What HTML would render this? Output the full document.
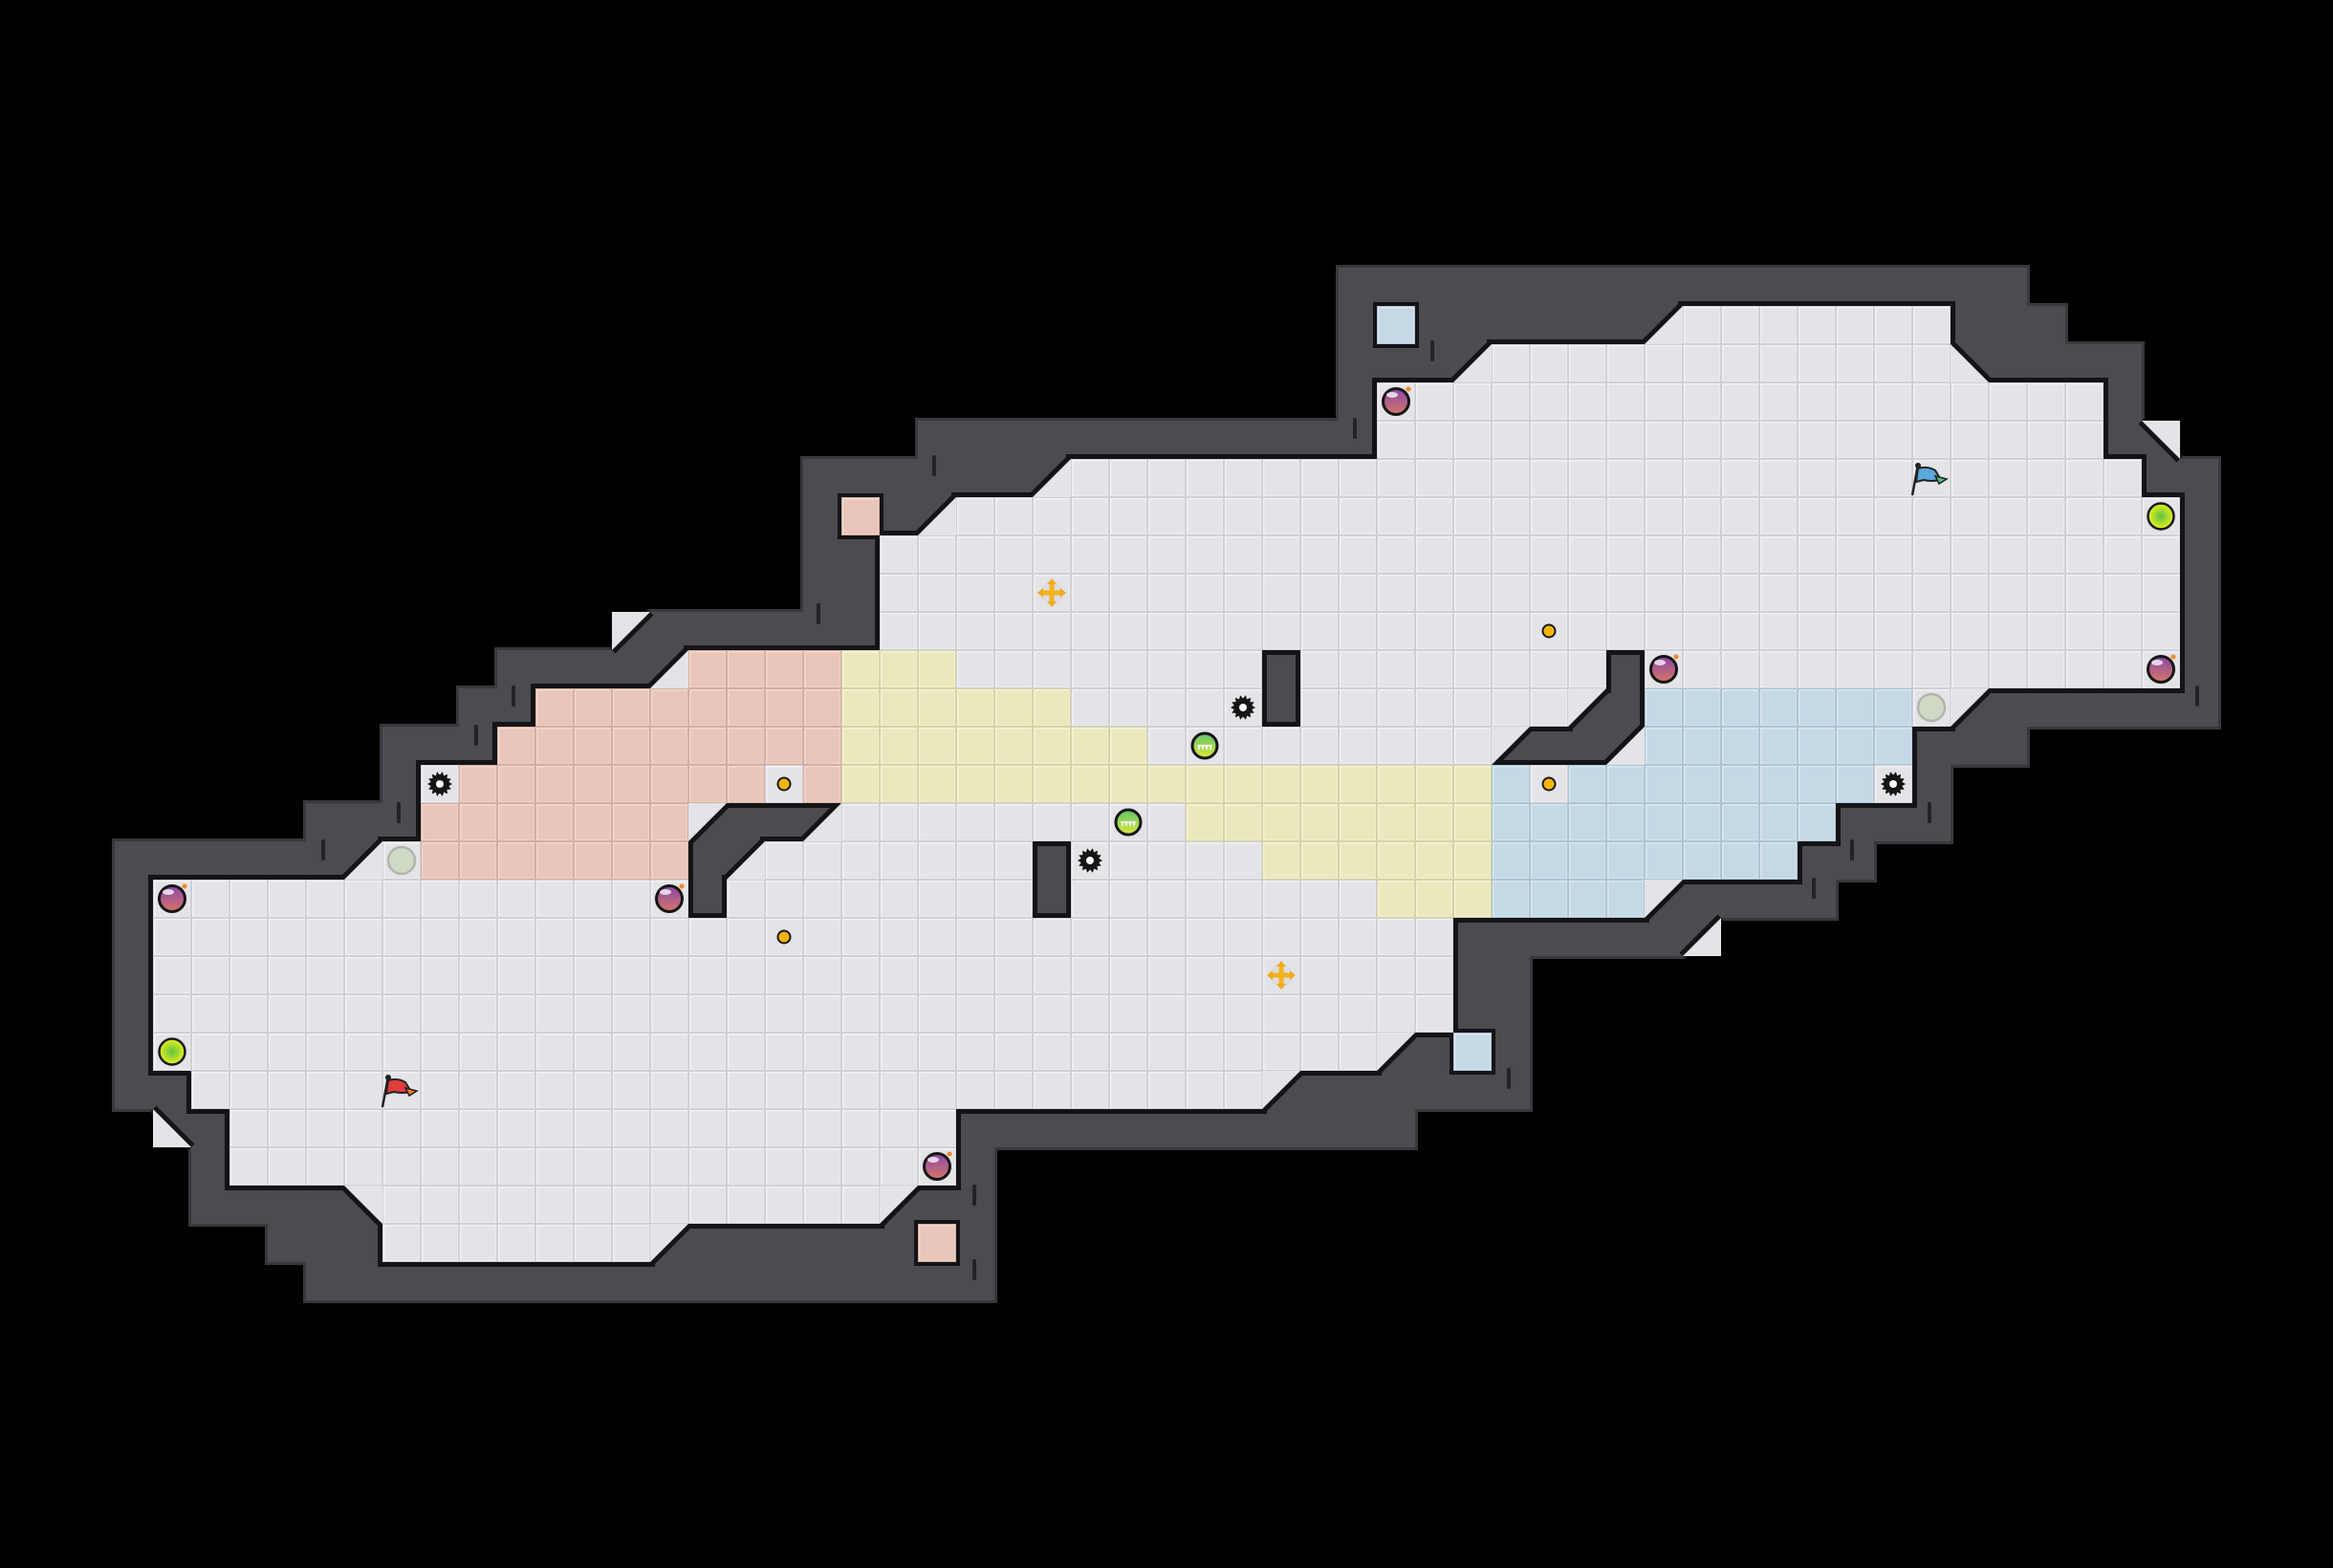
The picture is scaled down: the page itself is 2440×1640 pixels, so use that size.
<!DOCTYPE html>
<html><head><meta charset="utf-8">
<style>
html,body{margin:0;padding:0;background:#000;width:2440px;height:1640px;overflow:hidden;}
svg{display:block;}
</style></head>
<body>
<svg id="s" width="2440" height="1640" viewBox="0 0 2440 1640" xmlns="http://www.w3.org/2000/svg">
<defs>
<linearGradient id="bomb" x1="0" y1="0" x2="0" y2="1"><stop offset="0" stop-color="#8a47ab"/><stop offset="1" stop-color="#d67664"/></linearGradient>
<radialGradient id="lime" cx="0.5" cy="0.5" r="0.5"><stop offset="0" stop-color="#5fc244"/><stop offset="1" stop-color="#e9f01c"/></radialGradient>
<linearGradient id="grn" x1="0" y1="0" x2="0" y2="1"><stop offset="0" stop-color="#62c46c"/><stop offset="1" stop-color="#dbe83a"/></linearGradient>
</defs>
<rect width="2440" height="1640" fill="#000"/>
<g id="L"></g>
</svg>
<script>
var floor=[],walls=[],diags=[],squares=[];
function F(r,a,b,col){col=col||'g';for(var c=a;c<=b;c++)floor.push([c,r,col]);}
function W(r,a,b){if(b===undefined)b=a;for(var c=a;c<=b;c++)walls.push([c,r]);}
function D(c,r,t,col,art){diags.push([c,r,t,col||'g',art||0]);}
function S(c,r,col){squares.push([c,r,col]);}
F(8,44,50);D(43,8,1);
F(9,39,50);D(38,9,1);D(51,9,2);
F(10,36,54);F(11,36,54);D(56,11,4,'g',1);
F(12,28,55);D(27,12,1);
F(13,25,56);D(24,13,1);
F(14,23,56);F(15,23,56);F(16,23,56);D(16,16,3,'g',1);
F(17,18,21,'p');F(17,22,24,'y');F(17,25,56);D(17,17,1);
F(18,14,21,'p');F(18,22,27,'y');F(18,28,40);D(41,18,3);F(18,43,49,'b');F(18,50,50);D(51,18,3);
F(19,13,21,'p');F(19,22,29,'y');F(19,30,38);D(39,19,3);D(42,19,1);F(19,43,49,'b');
F(20,11,11);F(20,12,19,'p');F(20,20,20);F(20,21,21,'p');F(20,22,38,'y');F(20,39,39,'b');F(20,40,40);F(20,41,48,'b');F(20,49,49);
F(21,11,17,'p');D(18,21,3);D(21,21,1);F(21,22,30);F(21,31,38,'y');F(21,39,47,'b');
D(9,22,1);F(22,10,10);F(22,11,17,'p');D(19,22,1);F(22,20,32);F(22,33,38,'y');F(22,39,46,'b');
F(23,4,17);F(23,19,35);F(23,36,38,'y');F(23,39,42,'b');D(43,23,3);
F(24,4,37);D(44,24,1,'g',1);
F(25,4,37);F(26,4,37);
F(27,4,35);D(36,27,3);
F(28,5,32);D(33,28,3);
F(29,6,24);D(4,29,2,'g',1);
F(30,6,24);
D(9,31,4);F(31,10,22);D(23,31,3);
F(32,10,16);D(17,32,3);
W(7,35,52);
W(8,35);W(8,37,42);W(8,51,53);
W(9,35,37);W(9,52,55);
W(10,35);W(10,55);
W(11,24,35);W(11,55);
W(12,21,26);W(12,56,57);
W(13,21);W(13,23);W(13,57);
W(14,21,22);W(14,57);W(15,21,22);W(15,57);
W(16,17,22);W(16,57);
W(17,13,16);W(17,33);W(17,42);W(17,57);
W(18,12,13);W(18,33);W(18,42);W(18,52,57);
W(19,10,12);W(19,40,41);W(19,50,52);
W(20,10);W(20,50);
W(21,8,10);W(21,19,20);W(21,48,50);
W(22,3,8);W(22,18);W(22,27);W(22,47,48);
W(23,3);W(23,18);W(23,27);W(23,44,47);
W(24,3);W(24,38,43);
W(25,3);W(25,38,39);W(26,3);W(26,38,39);
W(27,3);W(27,37);W(27,39);
W(28,3,4);W(28,34,39);
W(29,5);W(29,25,36);
W(30,5);W(30,25);
W(31,5,8);W(31,24,25);
W(32,7,9);W(32,18,23);W(32,25);
W(33,8,25);
S(36,8,'b');S(22,13,'p');S(38,27,'b');S(24,32,'p');

var ws={};walls.forEach(function(w){ws[w[0]+','+w[1]]=1;});
floor=floor.filter(function(f){return !ws[f[0]+','+f[1]];});
var base={g:'#e3e3e8',p:'#e8c6b9',y:'#ebe8bd',b:'#c5d8e6'};
var dark={g:'#cfcfd5',p:'#d4aea1',y:'#d6d3a4',b:'#adc3d3'};
var lite={g:'#f2f2f4',p:'#f2d8ce',y:'#f5f3d6',b:'#dbe7f0'};
function triP(x,y,t){
 if(t==1)return [[x+40,y],[x+40,y+40],[x,y+40]];
 if(t==2)return [[x,y],[x+40,y+40],[x,y+40]];
 if(t==3)return [[x,y],[x+40,y],[x,y+40]];
 return [[x,y],[x+40,y],[x+40,y+40]];}
function hyp(x,y,t){ if(t==1||t==3)return [[x+40,y],[x,y+40]]; return [[x,y],[x+40,y+40]];}
function tri(x,y,t){return triP(x,y,t).map(function(q){return q[0]+','+q[1];}).join(' ');}
var o=[];
walls.concat(diags.filter(function(d){return !d[4];})).forEach(function(w){o.push('<rect x="'+(w[0]*40-3)+'" y="'+(w[1]*40-3)+'" width="46" height="46" fill="#38383d"/>');});
walls.concat(diags).forEach(function(w){o.push('<rect x="'+(w[0]*40)+'" y="'+(w[1]*40)+'" width="40" height="40" fill="#4b4b51"/>');});
floor.forEach(function(f){o.push('<rect x="'+(f[0]*40-5)+'" y="'+(f[1]*40-5)+'" width="50" height="50" fill="#141416"/>');});
squares.forEach(function(f){o.push('<rect x="'+(f[0]*40-4)+'" y="'+(f[1]*40-4)+'" width="48" height="48" fill="#141416"/>');});
diags.forEach(function(d){
 if(d[4]){var h=hyp(d[0]*40,d[1]*40,d[2]);o.push('<line x1="'+h[0][0]+'" y1="'+h[0][1]+'" x2="'+h[1][0]+'" y2="'+h[1][1]+'" stroke="#141416" stroke-width="10"/>');}
 else o.push('<polygon points="'+tri(d[0]*40,d[1]*40,d[2])+'" fill="#141416" stroke="#141416" stroke-width="10" stroke-linejoin="round"/>');});
floor.concat(squares).forEach(function(f){var x=f[0]*40,y=f[1]*40,c=f[2];
 o.push('<rect x="'+x+'" y="'+y+'" width="40" height="40" fill="'+dark[c]+'"/><rect x="'+(x+1)+'" y="'+(y+1)+'" width="38" height="38" fill="'+lite[c]+'"/><rect x="'+(x+2.5)+'" y="'+(y+2.5)+'" width="36" height="36" fill="'+base[c]+'"/>');});
diags.forEach(function(d){o.push('<polygon points="'+tri(d[0]*40,d[1]*40,d[2])+'" fill="'+base[d[3]]+'"/>');});
[[338,889],[417,850],[498,769],[537,728],[856,642],[977,487],[1417,448],[1498,367],[2298,728],[2018,850],[1937,889],[1897,929],[1578,1128],[1019,1250],[1019,1328]].forEach(function(t){o.push('<rect x="'+(t[0]-2)+'" y="'+(t[1]-11)+'" width="4" height="22" rx="1.5" fill="#232327"/>');});
function cc(c,r){return [c*40+20,r*40+20];}
function bomb(c,r){var p=cc(c,r);o.push('<g transform="translate('+p[0]+','+p[1]+')"><circle r="13.5" fill="url(#bomb)" stroke="#151515" stroke-width="3"/><ellipse cx="-4" cy="-7" rx="6" ry="3" fill="#fff" opacity=".75"/><circle cx="13" cy="-13" r="2.5" fill="#f08a24"/></g>');}
function lime(c,r){var p=cc(c,r);o.push('<circle cx="'+p[0]+'" cy="'+p[1]+'" r="13.5" fill="url(#lime)" stroke="#1a1a1a" stroke-width="2.5"/>');}
function grey(c,r){var p=cc(c,r);o.push('<circle cx="'+p[0]+'" cy="'+p[1]+'" r="14" fill="#cfdac6" stroke="#b0b6ab" stroke-width="2.5"/>');}
function stripe(c,r){var p=cc(c,r);o.push('<g transform="translate('+p[0]+','+p[1]+')"><circle r="13" fill="url(#grn)" stroke="#151515" stroke-width="3"/><path d="M-8,-1 L8,-1 L6,5 L4,-1 L2,5 L0,-1 L-2,5 L-4,-1 L-6,5 Z" fill="#fff"/></g>');}
function gear(c,r){var p=cc(c,r),d='';for(var i=0;i<28;i++){var a=i*Math.PI/14,R=(i%2?9.5:13);d+=(i?'L':'M')+(p[0]+R*Math.cos(a)).toFixed(1)+','+(p[1]+R*Math.sin(a)).toFixed(1);}
 o.push('<path d="'+d+'Z" fill="#151515"/><circle cx="'+p[0]+'" cy="'+p[1]+'" r="4" fill="#fff"/>');}
function dot(c,r){var p=cc(c,r);o.push('<circle cx="'+p[0]+'" cy="'+p[1]+'" r="6.5" fill="#f5b400" stroke="#1a1a1a" stroke-width="2"/>');}
function cross(c,r){var p=cc(c,r);o.push('<g transform="translate('+p[0]+','+p[1]+')"><circle r="12" fill="#d8d8de" opacity=".7"/><rect x="-2.5" y="-11" width="5" height="22" fill="#f4b21e"/><rect x="-11" y="-2.5" width="22" height="5" fill="#f4b21e"/><path d="M0,-15 L-5,-9 L5,-9Z M0,15 L-5,9 L5,9Z M-15,0 L-9,-5 L-9,5Z M15,0 L9,-5 L9,5Z" fill="#f4a91a"/></g>');}
function flag(x,y,c1,c2){o.push('<g transform="translate('+x+','+y+')"><line x1="2" y1="34" x2="8" y2="2" stroke="#222" stroke-width="2.5"/><circle cx="8" cy="3" r="3" fill="#222"/><path d="M8,6 Q18,3 26,8 L32,18 Q22,20 14,18 L6,20 Z" fill="'+c1+'" stroke="#222" stroke-width="2"/><path d="M26,14 L38,17 L30,22 Z" fill="'+c2+'" stroke="#222" stroke-width="1.5"/></g>');}
bomb(4,23);bomb(17,23);bomb(36,10);bomb(43,17);bomb(56,17);bomb(24,30);
lime(4,27);lime(56,13);
grey(10,22);grey(50,18);
stripe(31,19);stripe(29,21);
gear(11,20);gear(49,20);gear(28,22);gear(32,18);
dot(20,20);dot(40,16);dot(40,20);dot(20,24);
cross(27,15);cross(33,25);
flag(398,1124,'#e23c3c','#f07a2a');flag(1998,484,'#5aa8dc','#4cbf7a');
document.getElementById('L').innerHTML=o.join('');
</script>
</body></html>
